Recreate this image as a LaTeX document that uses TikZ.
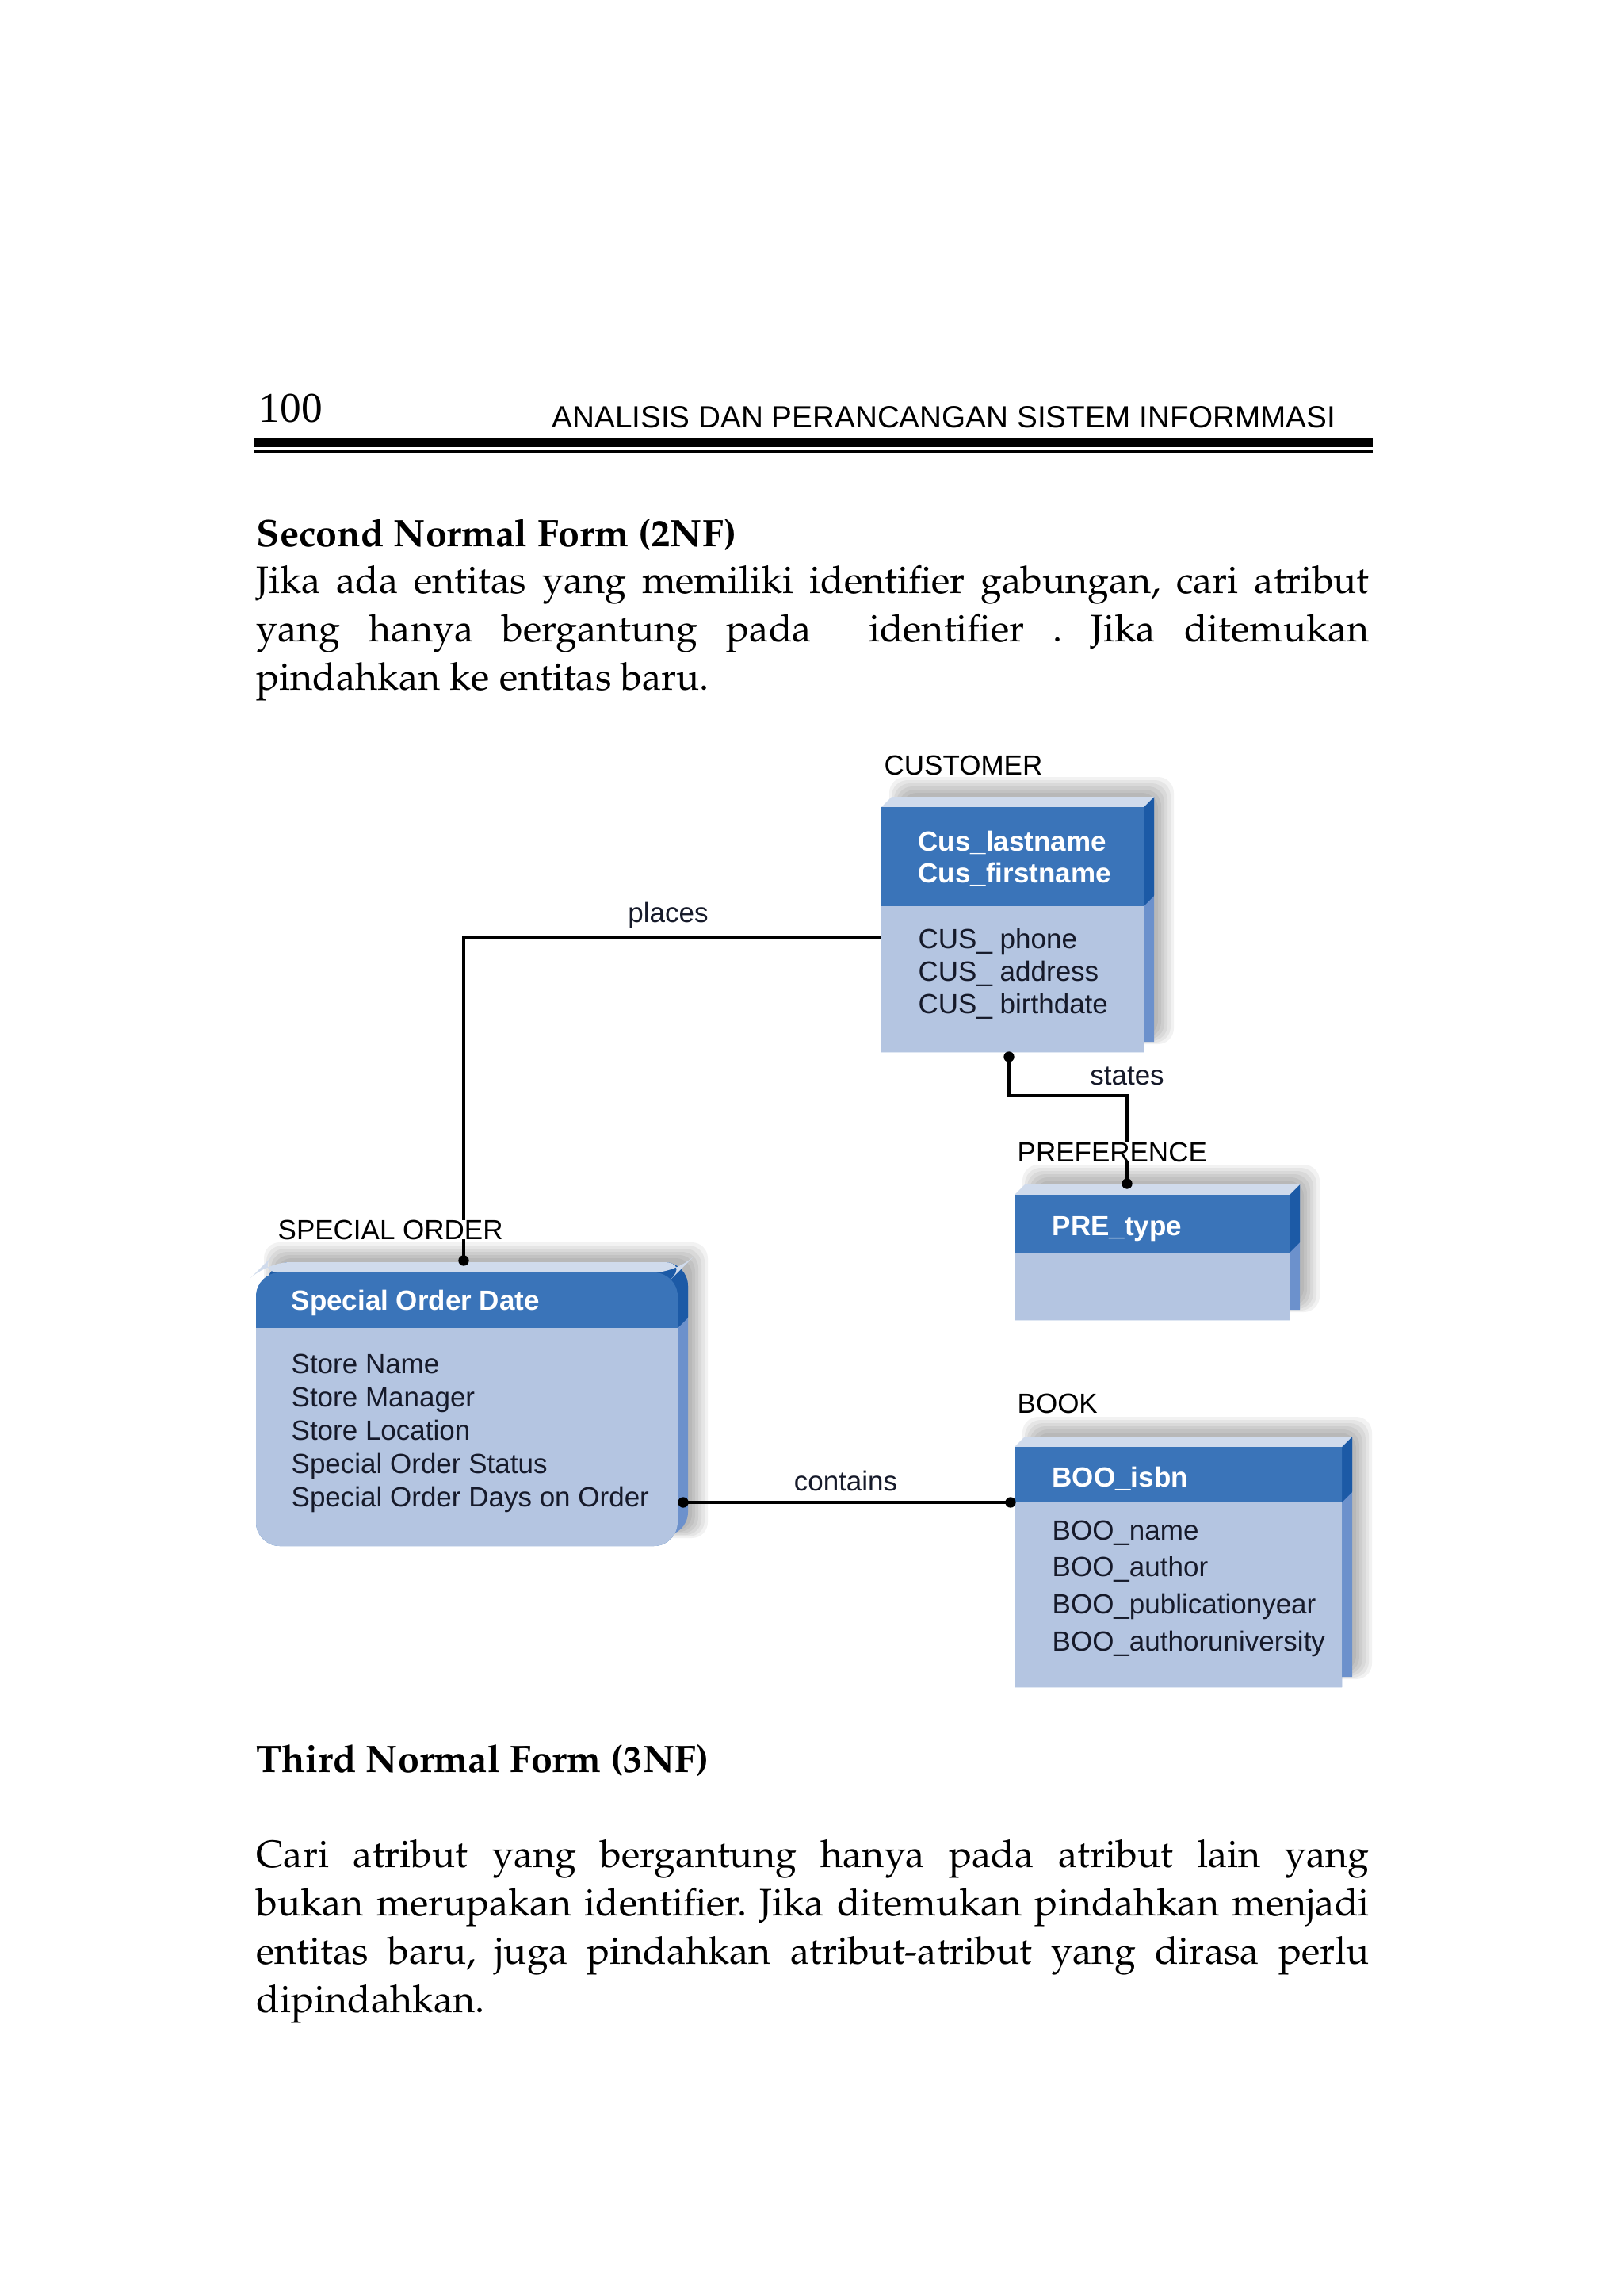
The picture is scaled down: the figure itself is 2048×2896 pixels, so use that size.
\documentclass[tikz,border=0pt]{standalone}
\usepackage[T1]{fontenc}
\usepackage{fontspec}
\setmainfont{Liberation Serif}
\newfontfamily\arialfont{Liberation Sans}
\newcommand\palfont{\fontencoding{T1}\fontfamily{ppl}\selectfont\frenchspacing}
\usepackage{tikz}
\usetikzlibrary{positioning}

\definecolor{hdrblue}{RGB}{58,116,185}
\definecolor{bodyblue}{RGB}{180,197,225}
\definecolor{topblue}{RGB}{208,219,236}
\definecolor{sidedark}{RGB}{28,90,166}
\definecolor{sidelight}{RGB}{108,145,204}
\definecolor{ertxt}{RGB}{22,26,42}

\begin{document}
\begin{tikzpicture}[x=0.3pt,y=0.3pt,yscale=-1,
        every node/.style={inner sep=0pt},
        ptext/.style={anchor=base west, font=\palfont\fontsize{14.5}{18}\selectfont},
        phead/.style={anchor=base west, font=\palfont\fontsize{14.5}{18}\selectfont\bfseries},
        ertext/.style={anchor=base west, text=ertxt, font=\arialfont\fontsize{10.5}{12}\selectfont},
        erkey/.style={ertext, text=white, font=\arialfont\bfseries\fontsize{10.5}{12}\selectfont},
        erlabel/.style={ertext, text=black},
        conn/.style={line width=1.1pt}]
        \fill[white] (0,0) rectangle (2048,2896);
        \useasboundingbox (0,0) rectangle (2048,2896);

        % page head
        \node[anchor=base west, font=\fontsize{16}{16}\selectfont] (pgnum) at (326,533) {100};
        \node[anchor=base west, font=\arialfont\fontsize{11.6}{12}\selectfont] (runhead) at (696,539) {ANALISIS DAN PERANCANGAN SISTEM INFORMMASI};
        \fill (321,552) rectangle (1732,564);
        \fill (321,568) rectangle (1732,572);

        % text above
        \node[phead] (h2nf) at (323,690) {Second Normal Form (2NF)};
        \node[ptext] (p1a) at (323,748) {\makebox[421.2pt][s]{Jika ada entitas yang memiliki identifier gabungan, cari atribut}};
        \node[ptext] (p1b) at (323,809) {\makebox[421.2pt][s]{yang hanya bergantung pada \ identifier . Jika ditemukan}};
        \node[ptext] (p1c) at (323,870) {pindahkan ke entitas baru.};

        % entity boxes
        \foreach \xa/\ya/\xb/\yb/\yh/\rr in {1112/1018/1443/1327/1143/0.01, 1280/1507/1627/1665/1580/0.01, 1280/1825/1693/2128/1895/0.01, 323/1605/855/1950/1675/9}{
            \foreach \k in {1,...,6}
                \fill[black, opacity=0.05, rounded corners=6pt] ({\xa+28-3*\k},{\ya-14-4*\k}) rectangle ({\xb+14+4*\k},{\yb-22+2*\k});
            \fill[sidelight, rounded corners=\rr pt] (\xa+13,\ya-13) rectangle (\xb+13,\yb-13);
            \begin{scope}
                \clip (\xa,\ya-30) -- (\xb+30,\ya-30) -- (\xb+30,\yh-30) -- (\xb,\yh) -- (\xa,\yh) -- cycle;
                \fill[sidedark, rounded corners=\rr pt] (\xa+13,\ya-13) rectangle (\xb+13,\yb-13);
            \end{scope}
            \fill[topblue, rounded corners=\rr pt] (\xa,\ya) -- (\xa+13,\ya-13) -- (\xb+13,\ya-13) -- (\xb,\ya) -- cycle;
            \fill[hdrblue, rounded corners=\rr pt] (\xa,\ya) rectangle (\xb,\yb);
            \begin{scope}
                \clip (\xa-2,\yh) rectangle (\xb+2,\yb+2);
                \fill[bodyblue, rounded corners=\rr pt] (\xa,\ya) rectangle (\xb,\yb);
            \end{scope}
        }

        % connection points
        \coordinate (cusW) at (1112,1183);
        \coordinate (cusS) at (1273,1333);
        \coordinate (preN) at (1422,1493);
        \coordinate (soN) at (585,1590);
        \coordinate (soE) at (862,1895);
        \coordinate (booW) at (1275,1895);

        \draw[conn] (cusW) -| (soN);
        \draw[conn] (cusS) -- ++(0,49) -| (preN);
        \draw[conn] (soE) -- (booW);

        \node[ertext, anchor=base] (places) at (843,1163) {places};
        \node[ertext, anchor=base] (states) at (1422,1368) {states};
        \node[ertext, anchor=base] (contains) at (1067,1880) {contains};

        % CUSTOMER
        \node[erlabel] (lcus) at (1115,977) {CUSTOMER};
        \node[erkey] (cus1) at (1158,1073) {Cus\_lastname};
        \node[erkey] (cus2) at (1158,1113) {Cus\_firstname};
        \foreach \t [count=\i] in {phone,address,birthdate}
            \node[ertext] (cusa\i) at (1158,{1196+41*(\i-1)}) {CUS\_ \t};

        % PREFERENCE
        \node[erlabel, fill=white] (lpre) at (1283,1465) {PREFERENCE};
        \node[erkey] (pre1) at (1327,1558) {PRE\_type};

        % SPECIAL ORDER
        \node[erlabel, fill=white] (lso) at (350,1563) {SPECIAL ORDER};
        \node[erkey] (so1) at (367,1652) {Special Order Date};
        \foreach \t [count=\i] in {Store Name,Store Manager,Store Location,Special Order Status,Special Order Days on Order}
            \node[ertext] (soa\i) at (367,{1732+42*(\i-1)}) {\t};

        % BOOK
        \node[erlabel] (lboo) at (1283,1782) {BOOK};
        \node[erkey] (boo1) at (1327,1875) {BOO\_isbn};
        \foreach \t [count=\i] in {name,author,publicationyear,authoruniversity}
            \node[ertext] (booa\i) at (1327,{1942+46.7*(\i-1)}) {BOO\_\t};

        \foreach \p in {cusS,preN,soN,soE,booW}
            \fill (\p) circle (2pt);

        % text below
        \node[phead] (h3nf) at (323,2235) {Third Normal Form (3NF)};
        \node[ptext] (p2a) at (323,2355) {\makebox[421.2pt][s]{Cari atribut yang bergantung hanya pada atribut lain yang}};
        \node[ptext] (p2b) at (323,2416) {\makebox[421.2pt][s]{bukan merupakan identifier. Jika ditemukan pindahkan menjadi}};
        \node[ptext] (p2c) at (323,2477) {\makebox[421.2pt][s]{entitas baru, juga pindahkan atribut-atribut yang dirasa perlu}};
        \node[ptext] (p2d) at (323,2538) {dipindahkan.};
    \end{tikzpicture}
\end{document}
